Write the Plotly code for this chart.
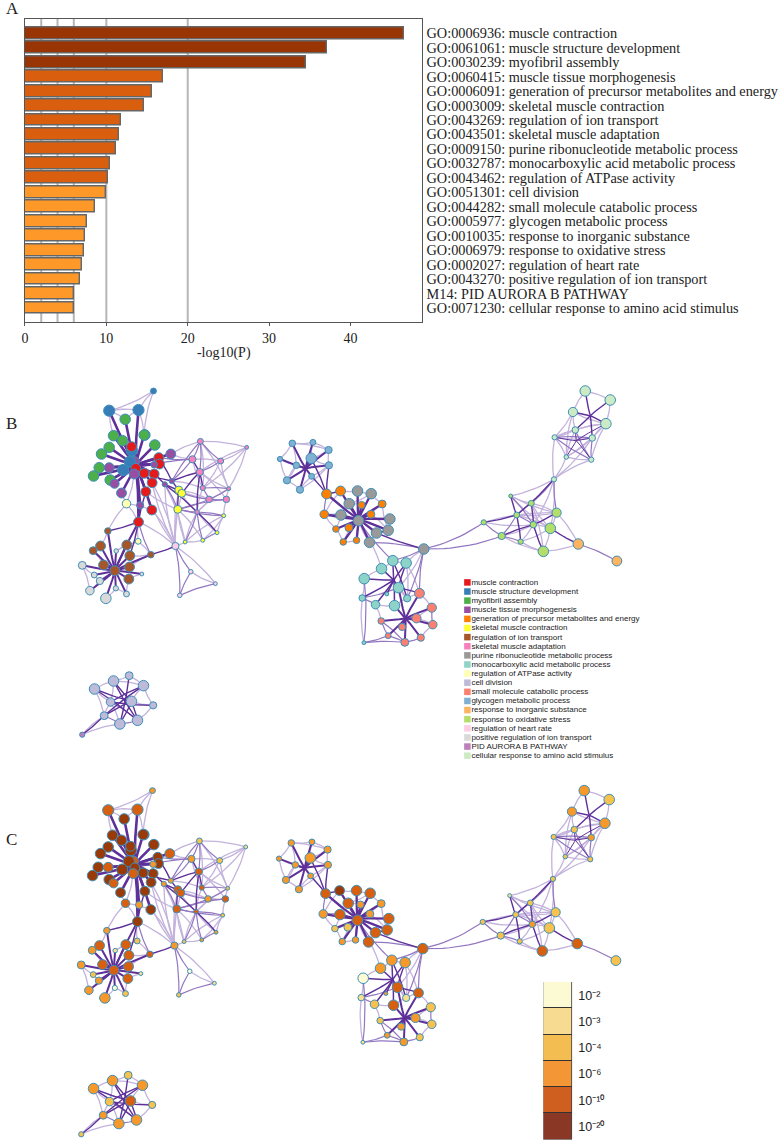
import plotly.graph_objects as go

# ---------- Panel A data ----------
terms = ["GO:0006936: muscle contraction", "GO:0061061: muscle structure development", "GO:0030239: myofibril assembly",
         "GO:0060415: muscle tissue morphogenesis", "GO:0006091: generation of precursor metabolites and energy",
         "GO:0003009: skeletal muscle contraction", "GO:0043269: regulation of ion transport",
         "GO:0043501: skeletal muscle adaptation", "GO:0009150: purine ribonucleotide metabolic process",
         "GO:0032787: monocarboxylic acid metabolic process", "GO:0043462: regulation of ATPase activity",
         "GO:0051301: cell division", "GO:0044282: small molecule catabolic process",
         "GO:0005977: glycogen metabolic process", "GO:0010035: response to inorganic substance",
         "GO:0006979: response to oxidative stress", "GO:0002027: regulation of heart rate",
         "GO:0043270: positive regulation of ion transport", "M14: PID AURORA B PATHWAY",
         "GO:0071230: cellular response to amino acid stimulus"]
log_p = [46.6, 37.1, 34.5, 17.0, 15.6, 14.6, 11.8, 11.5, 11.2, 10.5, 10.2, 9.95, 8.6, 7.6, 7.35, 7.3, 6.95, 6.7, 6.05, 6.0]
bar_colors = ["#993404"] * 3 + ["#D95F0E"] * 8 + ["#FE9929"] * 9
grid_values = [2, 4, 6, 10, 20]

# ---------- Legend (panel B) ----------
legend_labels = ["muscle contraction", "muscle structure development", "myofibril assembly", "muscle tissue morphogenesis",
                 "generation of precursor metabolites and energy", "skeletal muscle contraction", "regulation of ion transport",
                 "skeletal muscle adaptation", "purine ribonucleotide metabolic process", "monocarboxylic acid metabolic process",
                 "regulation of ATPase activity", "cell division", "small molecule catabolic process", "glycogen metabolic process",
                 "response to inorganic substance", "response to oxidative stress", "regulation of heart rate",
                 "positive regulation of ion transport", "PID AURORA B PATHWAY", "cellular response to amino acid stimulus"]
term_colors = ["#E41A1C", "#377EB8", "#4DAF4A", "#984EA3", "#FF7F00", "#FFFF33", "#A65628", "#F781BF", "#999999", "#8DD3C7",
               "#FFFFB3", "#BEBADA", "#FB8072", "#80B1D3", "#FDB462", "#B3DE69", "#FCCDE5", "#D9D9D9", "#BC80BD", "#CCEBC5"]

# ---------- Colour scale (panel C) ----------
scale_labels = ["10\u207b\u00b2", "10\u207b\u00b3", "10\u207b\u2074", "10\u207b\u2076", "10\u207b\u00b9\u2070", "10\u207b\u00b2\u2070"]
scale_colors = ["#FBFAD3", "#F7DB91", "#F4BD52", "#F39635", "#CE5F1E", "#8B3726"]
p_colors = ["#FFFBD4", "#F9E08F", "#F8C24E", "#F6992A", "#D65F10", "#993A08"]  # indexed by p bin 0..5

# ---------- Network 1 ----------
n1_x = [278,145,233,252,193,158,185,250,282,145,122,115,98,148,220,213,207,187,212,294,296,250,280,274,255,273,233,225,330,145,220,161,182,238,280,312,333,354,363,351,373,426,469,489,419,395,480,558,417,426,504,445,497,409,197,232,141,119,97,198,207,128,162,206,204,270,64,100,117,87,135,165,197,166,243,344,390,464,357]
n1_y = [33,92,90,165,118,167,182,165,195,202,222,263,288,300,245,212,245,270,200,233,252,280,282,308,335,390,426,265,222,263,282,311,339,376,254,313,303,330,340,388,486,481,458,407,184,238,243,202,276,324,326,358,358,396,371,484,453,498,512,495,527,555,572,561,597,524,556,585,603,632,655,625,642,513,582,498,575,611,646]
n1_r = [7,15,15,14,14,14,14,14,14,14,14,14,14,14,14,15,15,15,13,13,13,13,13,13,13,13,13,13,13,13,13,12,13,9,8,6,6,10,10,10,4,4,4,4,7,9,7,4,9,6,4,8,8,5,11,7,8,13,10,13,13,13,13,13,13,8,10,7,9,11,14,6,7,5,4,9,5,4,5]
n1_term = [1,1,1,1,2,2,2,2,2,2,2,2,2,2,3,1,1,1,0,0,0,0,0,0,0,0,0,0,3,3,3,3,3,3,3,3,3,5,5,5,5,5,5,5,7,7,7,7,7,7,7,7,7,7,10,10,6,6,6,6,6,6,6,6,6,6,17,17,17,17,17,17,17,17,17,16,16,16,16]
n1_bin = [3,4,4,5,5,5,5,5,5,5,5,5,5,5,4,5,5,5,5,5,5,5,5,5,5,5,5,5,4,4,4,4,5,3,3,3,3,4,4,4,2,3,3,2,2,3,2,1,4,4,2,3,4,4,4,2,3,4,3,4,4,4,4,4,4,4,3,2,3,3,3,0,2,1,1,3,0,1,2]
n1_spokes = [((225,255),[1,2,4,5,6,7,8,9,10,11,12,13,14,15,16,17,18,19,20,21,22,23,24,25,26,27,28,29,30,31,32,33,34],2.6),
             ((162,572),[56,57,58,59,60,61,63,64,65,66,67,68,69,70,71,72,73,74,26],2.0)]
n1_dark = [(35,53),(36,38),(38,48),(37,39),(48,49),(48,53),(53,42),(65,75),(36,48),(45,48),(26,56),(24,26),(26,60),(33,26),(22,35),(21,36),(19,36),(35,37)]
n1_mid = [(44,45),(48,46),(49,50),(51,50),(53,40),(53,41),(53,43),(39,43),(41,42),(75,76),(75,78),(76,78),(78,77),(36,45),(36,44),(38,51),(35,39),(39,51),(44,48),(44,46),(39,52),(51,52),(49,51),(39,53),(27,45),(19,45),(65,26)]
n1_light = [(0,1),(0,2),(1,2),(0,7),(1,4),(2,4),(2,7),(1,5),(28,44),(28,45),(44,47),(46,47),(47,50),(50,52),(44,49),(46,50),(47,49),(40,41),(42,43),(41,43),(40,43),(75,40),(75,39),(75,26),(75,23),(76,77),(75,77),(26,54),(54,25),(54,56),(55,26),(55,73),(55,65),(38,75),(23,75),(39,40),(39,41),(37,75),(45,46),(66,67),(66,69),(67,68),(68,69),(70,71),(71,72),(64,72),(73,59),(74,64),(65,60),(65,63),(56,57),(57,58),(58,61),(59,60),(42,53),(52,43),(35,40),(35,75),(30,54),(45,49),(46,49),(48,50),(48,52),(49,53),(51,53),(50,53),(37,51),(37,53),(36,49),(35,51),(40,53),(47,48),(44,50),(24,39),(25,75),(24,75),(54,32)]

# ---------- Network 2 ----------
n2_x = [65,127,174,28,122,77,175,123,49,88,168,210,335,273,161,301,235,196,218,258,261,302,236,211,358,353,318,297,264,460,367,407,333,281,384,275,315,372,410,349,280,447,484,438,487,332,395,353,403,451]
n2_y = [40,37,60,87,85,106,106,139,151,179,192,183,222,225,253,253,293,297,336,331,183,191,221,255,267,301,309,337,272,357,392,399,416,446,473,504,524,527,505,492,638,490,533,565,584,573,591,617,637,623]
n2_r = [8,7,9,6,14,8,9,7,9,9,13,13,10,9,11,10,10,8,8,8,14,14,14,14,14,14,14,14,14,14,14,14,14,14,14,8,11,14,9,4,4,13,12,12,11,8,9,7,10,9]
n2_term = [13]*10 + [4]*10 + [8]*10 + [9]*11 + [12]*9
n2_bin = [3,3,3,3,3,3,3,3,3,3,4,5,3,3,3,3,2,2,3,3,4,4,4,4,4,4,4,4,4,4,3,3,3,0,4,1,2,4,1,3,1,4,2,3,2,2,3,3,3,2]
n2_spokes = [((105,115),[0,1,2,3,4,5,6,7,8,9],2.0),
             ((264,268),[10,11,12,13,14,15,16,17,18,19,20,21,22,23,24,25,26,27],2.3),
             ((405,565),[41,42,43,44,45,46,47,48,49,37,34],2.0),
             ((370,450),[30,31,32,33,34,35,36,37,39],1.5)]
n2_dark = [(7,10),(6,10),(4,10),(26,29),(25,26),(10,11),(34,41),(31,34),(30,38)]
n2_mid = [(33,40),(40,47),(40,48),(45,47),(47,48),(48,49),(29,30),(28,30),(27,29),(10,14),(14,23),(11,22),(35,36),(35,34),(45,48),(42,44),(29,38),(29,41)]
n2_light = [(0,3),(0,1),(1,2),(2,6),(6,7),(7,9),(8,9),(3,8),(0,5),(1,4),(2,4),(4,6),(5,8),(11,20),(12,21),(12,25),(15,25),(26,27),(27,28),(28,19),(19,18),(18,17),(17,14),(18,16),(28,32),(29,31),(29,34),(30,31),(30,32),(32,33),(33,35),(36,37),(37,38),(38,34),(41,42),(42,43),(43,44),(44,49),(31,38),(35,40),(36,45),(41,38),(21,22),(20,21),(14,11),(17,23),(0,2),(3,5),(8,5),(9,6),(31,41),(34,38),(22,13),(12,15)]

# ---------- Network 3 ----------
n3_x = [405,480,368,467,375,426,313,348,423,311,181,243,199,319,100,249,300,154,211,279,384,500]
n3_y = [33,60,96,131,150,174,172,231,239,298,348,370,405,398,427,434,445,468,485,514,492,543]
n3_r = [14,14,12,14,8,8,6,5,6,6,4,7,7,12,6,8,14,9,6,14,14,13]
n3_term = [19]*10 + [15]*10 + [14]*2
n3_bin = [3,2,3,3,2,3,2,2,2,2,1,2,2,2,2,3,2,2,2,4,4,2]
n3_spokes = [((420,107),[0,1,2,3,4,5],1.4), ((378,182),[3,4,5,6,7,8],1.0)]
n3_dark = [(12,14),(10,12),(11,15),(15,19),(13,15),(15,17),(12,18),(16,20),(9,12)]
n3_mid = [(6,5),(4,8),(20,21),(14,17),(17,18),(9,13),(9,11),(5,8),(12,15),(6,8),(10,15),(11,12),(12,17)]
n3_light = [(0,1),(0,2),(1,3),(2,3),(2,6),(3,5),(4,6),(7,8),(6,7),(4,7),(5,7),(6,9),(7,9),(8,9),(5,9),(3,8),(9,16),(10,11),(11,13),(18,19),(16,19),(19,20),(13,16),(12,13),(15,16),(17,19),(15,18),(14,15),(14,13),(10,13),(11,19),(3,6),(5,6),(3,4),(9,10),(11,16),(13,20),(17,15),(6,4),(2,7),(3,7),(2,4),(12,16),(10,16),(9,15),(18,16)]

# ---------- Network 4 ----------
n4_x = [101,158,205,248,277,149,212,130,177,230,64]
n4_y = [57,33,17,47,106,96,94,137,162,151,194]
n4_r = [14,14,10,14,9,11,14,10,14,14,6]
n4_term = [11]*10 + [18]
n4_bin = [3,3,2,3,2,2,4,3,3,3,2]
n4_spokes = []
n4_dark = [(0,9),(1,9),(2,8),(3,7),(4,5),(3,5),(6,9),(0,6),(7,10),(1,6),(7,6),(8,6)]
n4_mid = [(7,8),(8,9),(5,9)]
n4_light = [(0,1),(1,2),(2,3),(3,4),(4,9),(0,5),(0,7),(5,7),(1,3),(7,10),(1,5),(3,6),(4,6),(8,10),(5,8)]

# zoom-reading frames used when reading the node layouts
frames = [(60, 380), (270, 430), (450, 380), (60, 670)]
networks = [
    (n1_x, n1_y, n1_r, n1_term, n1_bin, n1_spokes, n1_dark, n1_mid, n1_light),
    (n2_x, n2_y, n2_r, n2_term, n2_bin, n2_spokes, n2_dark, n2_mid, n2_light),
    (n3_x, n3_y, n3_r, n3_term, n3_bin, n3_spokes, n3_dark, n3_mid, n3_light),
    (n4_x, n4_y, n4_r, n4_term, n4_bin, n4_spokes, n4_dark, n4_mid, n4_light),
]
bridge_edges = [((1, 29), (2, 14)), ((1, 29), (2, 17))]
panel_shift = {"B": (0, 0), "C": (-1, 399.6)}


def to_page(fr, v):
    return fr[0] + v[0] / 3, fr[1] + v[1] / 3


def curve(a, b, bend=0.1, n=12):
    mx, my = (a[0] + b[0]) / 2, (a[1] + b[1]) / 2
    cx, cy = mx - (b[1] - a[1]) * bend, my + (b[0] - a[0]) * bend
    xs, ys = [], []
    for i in range(n + 1):
        t = i / n
        xs.append((1 - t) ** 2 * a[0] + 2 * t * (1 - t) * cx + t ** 2 * b[0])
        ys.append((1 - t) ** 2 * a[1] + 2 * t * (1 - t) * cy + t ** 2 * b[1])
    return xs + [None], ys + [None]


def edge_trace(segments, color, width, shift):
    X, Y = [], []
    for a, b, bend in segments:
        xs, ys = curve(a, b, bend)
        X += [v + shift[0] if v is not None else None for v in xs]
        Y += [v + shift[1] if v is not None else None for v in ys]
    return go.Scatter(x=X, y=Y, mode="lines", line=dict(color=color, width=width), hoverinfo="skip",
                      showlegend=False, xaxis="x2", yaxis="y2")


fig = go.Figure()

# Panel A bars
fig.add_trace(go.Bar(x=log_p, y=list(range(len(log_p))), orientation="h", width=0.82,
                     marker=dict(color=bar_colors, line=dict(color="#666666", width=1.4)), showlegend=False))

# Panels B and C networks
for panel, shift in panel_shift.items():
    light, mid, dark, spokes = [], [], [], {}
    pos = []
    for fr, net in zip(frames, networks):
        pos.append([to_page(fr, (x, y)) for x, y in zip(net[0], net[1])])
    for k, (fr, net) in enumerate(zip(frames, networks)):
        for i, (a, b) in enumerate(net[8]):
            light.append((pos[k][a], pos[k][b], 0.08 if i % 2 else -0.08))
        for i, (a, b) in enumerate(net[7]):
            mid.append((pos[k][a], pos[k][b], 0.06 if i % 2 else -0.06))
        for i, (a, b) in enumerate(net[6]):
            dark.append((pos[k][a], pos[k][b], 0.04 if i % 2 else -0.04))
        for centre, members, w in net[5]:
            c = to_page(fr, centre)
            spokes.setdefault(w, []).extend((pos[k][m], c, 0.03) for m in members)
    for (k1, a), (k2, b) in bridge_edges:
        mid.append((pos[k1][a], pos[k2][b], 0.1))
    fig.add_trace(edge_trace(light, "#C3B3DC", 1.3, shift))
    fig.add_trace(edge_trace(mid, "#9277C0", 1.2, shift))
    fig.add_trace(edge_trace(dark, "#5E319A", 1.4, shift))
    for w, seg in spokes.items():
        fig.add_trace(edge_trace(seg, "#5E319A", w, shift))
    X, Y, S, C = [], [], [], []
    for k, net in enumerate(networks):
        for i, (px, py) in enumerate(pos[k]):
            X.append(px + shift[0])
            Y.append(py + shift[1])
            S.append(net[2][i] * 2 / 3 + 1.2)
            C.append(term_colors[net[3][i]] if panel == "B" else p_colors[net[4][i]])
    fig.add_trace(go.Scatter(x=X, y=Y, mode="markers", hoverinfo="skip", showlegend=False, xaxis="x2", yaxis="y2",
                             marker=dict(size=S, color=C, opacity=1, line=dict(color="#3D8FB8", width=1))))

# Legend as a labelled column
legend_y = [582.4 + 9.12 * i for i in range(len(legend_labels))]
fig.add_trace(go.Scatter(x=[467] * len(legend_labels), y=legend_y, mode="markers",
                         marker=dict(symbol="square", size=6.5, color=term_colors, opacity=1),
                         hoverinfo="skip", showlegend=False, xaxis="x2", yaxis="y2"))
fig.add_trace(go.Scatter(x=[471] * len(legend_labels), y=[v + 0.4 for v in legend_y], mode="text", text=legend_labels,
                         textposition="middle right", textfont=dict(family="Liberation Sans", size=8, color="#222222"),
                         cliponaxis=False, hoverinfo="skip", showlegend=False, xaxis="x2", yaxis="y2"))

# Colour scale
fig.add_trace(go.Bar(x=[1] * 6, y=list(range(6)), orientation="h", width=1, xaxis="x3", yaxis="y3", showlegend=False,
                     marker=dict(color=scale_colors, line=dict(color="#333333", width=1)), hoverinfo="skip"))

W, H = 780, 1142
L0 = 3  # left edge of the plot area Plotly leaves on the page


def dom_x(px):
    return (px - L0) / (W - L0)


layout_shapes = [dict(type="line", xref="x", yref="paper", x0=g, x1=g, y0=(H - 322) / H, y1=(H - 18.5) / H,
                      line=dict(color="#B5B5B5", width=2), layer="below") for g in grid_values]
serif = "Liberation Serif"
fig.update_layout(
    width=W, height=H, autosize=False, margin=dict(l=0, r=0, t=0, b=0), paper_bgcolor="white", plot_bgcolor="rgba(0,0,0,0)",
    shapes=layout_shapes, bargap=0, font=dict(family=serif, color="#222222"),
    xaxis=dict(domain=[dom_x(24), dom_x(422)], range=[0, 48.85], anchor="y", tickvals=[0, 10, 20, 30, 40], showgrid=False,
               zeroline=False, showline=True, mirror=True, linecolor="#555555", linewidth=1.4, ticks="outside", ticklen=3,
               tickcolor="#555555", tickfont=dict(size=14), title=dict(text="-log10(P)", font=dict(size=14), standoff=2)),
    yaxis=dict(domain=[(H - 322) / H, (H - 18.5) / H], range=[19.97, -1.02], anchor="x", side="right",
               tickvals=list(range(20)), ticktext=terms, showgrid=False, zeroline=False, showline=True, mirror=True,
               linecolor="#555555", linewidth=1.4, ticks="", tickfont=dict(size=14.3), ticklabelstandoff=0),
    xaxis2=dict(domain=[0, 1], range=[L0, W], anchor="y2", visible=False, fixedrange=True),
    yaxis2=dict(domain=[0, 1], range=[H, 0], anchor="x2", visible=False, fixedrange=True),
    xaxis3=dict(domain=[dom_x(543), dom_x(572)], range=[0, 1], anchor="y3", visible=False),
    yaxis3=dict(domain=[(H - 1139.5) / H, (H - 982) / H], range=[5.5, -0.5], anchor="x3", side="right",
                tickvals=list(range(6)), ticktext=scale_labels, showgrid=False, zeroline=False, showline=False, ticks="",
                tickfont=dict(family="Liberation Sans", size=12.5, color="#222222"), ticklabelstandoff=5),
    annotations=[dict(text=t, x=0, y=(H - yy) / H, xref="paper", yref="paper", showarrow=False, xanchor="left",
                      yanchor="middle", font=dict(family=serif, size=17, color="#222222"))
                 for t, yy in [("A", 8), ("B", 423), ("C", 839)]],
)
fig.write_html("out.html", post_script="document.body.style.margin='0';", config={"displayModeBar": False})
